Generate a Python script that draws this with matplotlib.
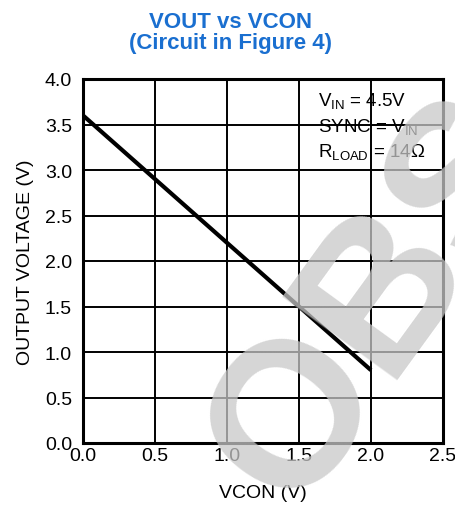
import matplotlib
matplotlib.use("Agg")
import matplotlib.pyplot as plt

plt.rcParams['font.family'] = ['Liberation Sans', 'DejaVu Sans']
plt.rcParams['mathtext.fontset'] = 'custom'
plt.rcParams['mathtext.rm'] = 'Liberation Sans'

vcon = [0.0, 0.5, 1.0, 1.5, 2.0]
vout = [3.6, 2.9, 2.2, 1.5, 0.8]
x_ticks = [0.0, 0.5, 1.0, 1.5, 2.0, 2.5]
y_ticks = [0.0, 0.5, 1.0, 1.5, 2.0, 2.5, 3.0, 3.5, 4.0]

fig = plt.figure(figsize=(4.56, 5.10), dpi=100)
ax = fig.add_axes([83/456, 1-444/510, 360/456, 364/510])

ax.set_xlim(0, 2.5)
ax.set_ylim(0, 4.0)
ax.set_xticks(x_ticks)
ax.set_yticks(y_ticks)
ax.set_xticklabels([f"{v:.1f}" for v in x_ticks])
ax.set_yticklabels([f"{v:.1f}" for v in y_ticks])
ax.tick_params(length=0, labelsize=14, colors='black')
ax.tick_params(axis='y', pad=8)
ax.tick_params(axis='x', pad=3)
ax.grid(True, color='black', linewidth=1.4, zorder=1)
ax.set_axisbelow(True)
for s in ax.spines.values():
    s.set_linewidth(2.2)
    s.set_color('black')

ax.plot(vcon, vout, color='black', linewidth=3, zorder=5, solid_capstyle='butt')

ax.set_xlabel('VCON (V)', fontsize=14, labelpad=14)
ax.set_ylabel('OUTPUT VOLTAGE (V)', fontsize=14, labelpad=8)

tx = (318 - 83) / 360
ax.text(tx, (444-107)/364, r'V$_{\mathregular{IN}}$ = 4.5V', transform=ax.transAxes,
        fontsize=13.5, va='baseline', ha='left', zorder=3)
ax.text(tx, (444-133)/364, r'SYNC = V$_{\mathregular{IN}}$', transform=ax.transAxes,
        fontsize=13.5, va='baseline', ha='left', zorder=3)
ax.text(tx, (444-158)/364, r'R$_{\mathregular{LOAD}}$ = 14Ω', transform=ax.transAxes,
        fontsize=13.5, va='baseline', ha='left', zorder=3)

fig.text(231/456, 1-22/510, 'VOUT vs VCON', color='#1a6fd0', fontsize=16,
         fontweight='bold', ha='center', va='center')
fig.text(231/456, 1-44/510, '(Circuit in Figure 4)', color='#1a6fd0', fontsize=16,
         fontweight='bold', ha='center', va='center')

# watermark
fig.text(293/456, 1-513/510, 'OBSOLETE', fontsize=148, fontweight='bold',
         color='#c8c8c8', alpha=0.75, rotation=54, rotation_mode='anchor',
         ha='left', va='baseline', zorder=10)

fig.savefig('out.png', dpi=100)
